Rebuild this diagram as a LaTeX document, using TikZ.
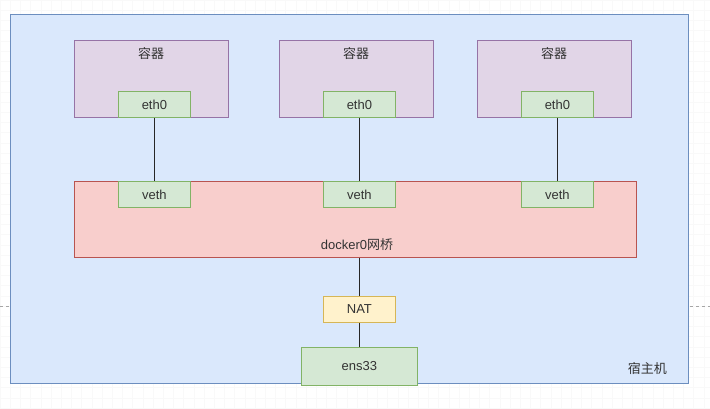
\documentclass[tikz,border=0pt]{standalone}
\usepackage{fontspec}
\setmainfont{Liberation Sans}
\newfontfamily\cjk{Noto Sans CJK SC}
\usetikzlibrary{positioning}
\definecolor{hostfill}{HTML}{DAE8FC}
\definecolor{hostline}{HTML}{6C8EBF}
\definecolor{boxfill}{HTML}{E1D5E7}
\definecolor{boxline}{HTML}{9673A6}
\definecolor{nicfill}{HTML}{D5E8D4}
\definecolor{nicline}{HTML}{82B366}
\definecolor{brfill}{HTML}{F8CECC}
\definecolor{brline}{HTML}{B85450}
\definecolor{natfill}{HTML}{FFF2CC}
\definecolor{natline}{HTML}{D6B656}
\definecolor{txt}{HTML}{333333}

\begin{document}
\begin{tikzpicture}[x=1pt,y=-1pt,
  every node/.style={font=\fontsize{13}{15}\selectfont,text=txt,inner sep=0pt},
  blk/.style={draw,line width=0.8pt,minimum width=#1,anchor=north west},
  host/.style={blk=678pt,minimum height=369pt,fill=hostfill,draw=hostline},
  ctr/.style={blk=154pt,minimum height=77pt,fill=boxfill,draw=boxline},
  bridge/.style={blk=562pt,minimum height=76pt,fill=brfill,draw=brline},
  nic/.style={draw=nicline,fill=nicfill,line width=0.8pt,minimum width=72pt,minimum height=26pt,anchor=north west},
  nat/.style={nic,draw=natline,fill=natfill},
  wire/.style={line width=0.9pt,black!85}]
\useasboundingbox (0,0) rectangle (710,408);
% faint page grid
\draw[black!2.5,line width=0.5pt,step=10.2pt] (0,0) grid (710,408);
\draw[black!35,dashed,line width=0.6pt] (0,306)--(710,306);
% host
\node[host] (host) at (10,14) {};
\node[anchor=south east] (hostlbl) at (667,375) {\cjk 宿主机};
% containers
\foreach \n/\x in {1/74,2/279,3/477}{
  \node[ctr] (ctr\n) at (\x,40) {};
  \node (title\n) at (\x+77,54) {\cjk 容器};
}
\node[nic] (eth1) at (118,91) {eth0};
\node[nic] (eth2) at (323,91) {eth0};
\node[nic] (eth3) at (521,91) {eth0};
% bridge
\node[bridge] (br) at (74,181) {};
\node (brlbl) at (357,245) {docker0{\cjk 网桥}};
\node[nic] (veth1) at (118,181) {veth};
\node[nic] (veth2) at (323,181) {veth};
\node[nic] (veth3) at (521,181) {veth};
% way out
\node[nat] (nat) at (323,296) {NAT};
\node[nic,minimum width=116pt,minimum height=38pt] (ens) at (301,347) {ens33};
\foreach \n in {1,2,3}
  \draw[wire] (eth\n) -- (veth\n);
\draw[wire] (veth2.south|-br.south) -- (nat);
\draw[wire] (nat) -- (ens);
\end{tikzpicture}
\end{document}
